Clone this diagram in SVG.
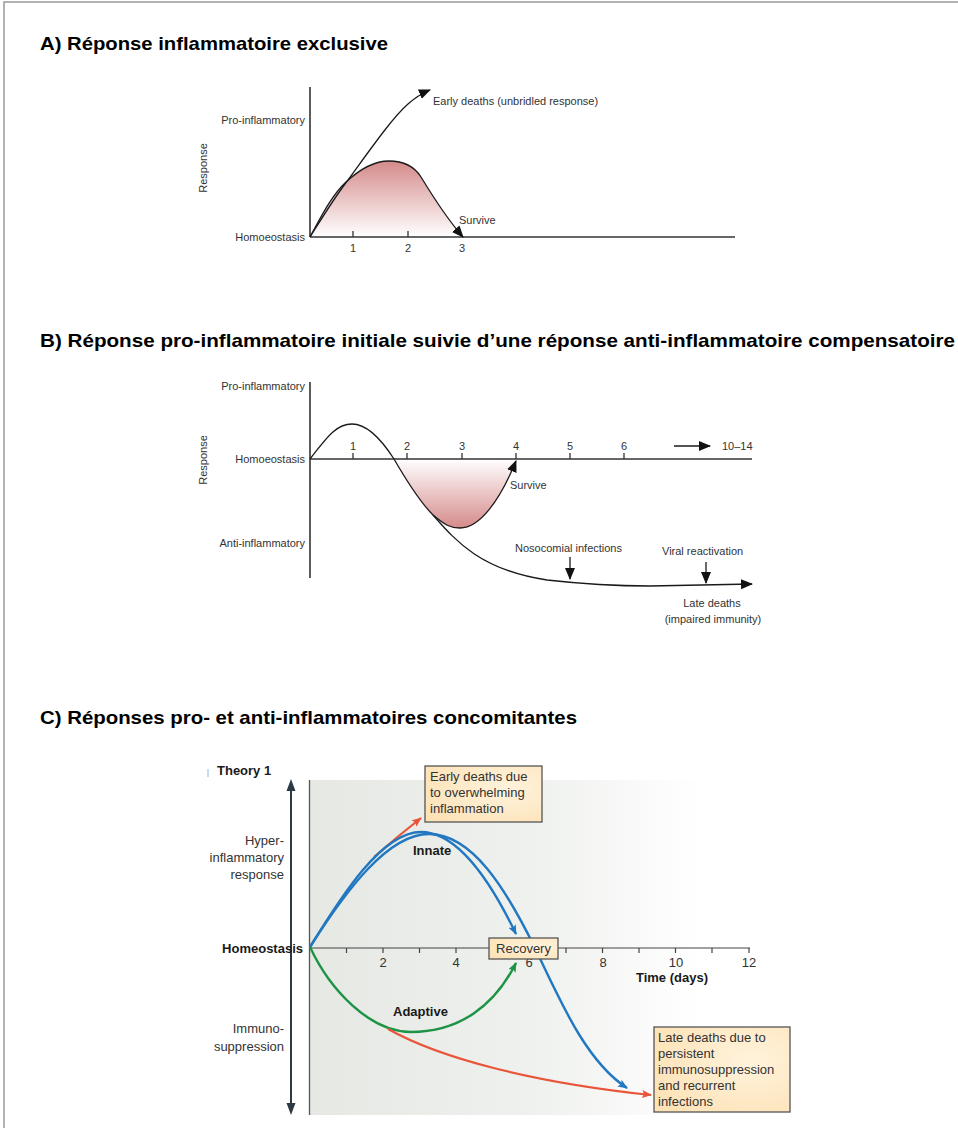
<svg xmlns="http://www.w3.org/2000/svg" width="958" height="1128" viewBox="0 0 958 1128">
<defs>
<style>
.title{font-family:"Liberation Sans",Arial,sans-serif;font-weight:bold;font-size:18.5px;fill:#000}
.lab{font-family:"Liberation Sans",Arial,sans-serif;font-size:11px;fill:#333}
.labc{font-family:"Liberation Sans",Arial,sans-serif;font-size:13px;fill:#333}
.bold{font-family:"Liberation Sans",Arial,sans-serif;font-size:13px;font-weight:bold;fill:#1a1a1a}
.ax{stroke:#333;stroke-width:1.6;fill:none}
.cur{stroke:#1a1a1a;stroke-width:1.3;fill:none}
.tick{stroke:#333;stroke-width:1.3}
.blue{stroke:#2278c0;stroke-width:2.4;fill:none}
.green{stroke:#1d9346;stroke-width:2.4;fill:none}
.red{stroke:#e8553a;stroke-width:2.2;fill:none}
.box{fill:url(#boxg);stroke:#555;stroke-width:1.3}
</style>
<marker id="ak" markerUnits="userSpaceOnUse" markerWidth="14" markerHeight="12" refX="11" refY="5" orient="auto"><path d="M0,0 L12,5 L0,10 Z" fill="#111"/></marker>
<marker id="ab" markerUnits="userSpaceOnUse" markerWidth="12" markerHeight="10" refX="9" refY="4" orient="auto"><path d="M0,0 L10,4 L0,8 L2,4 Z" fill="#2278c0"/></marker>
<marker id="ag" markerUnits="userSpaceOnUse" markerWidth="12" markerHeight="10" refX="9" refY="4" orient="auto"><path d="M0,0 L10,4 L0,8 L2,4 Z" fill="#1d9346"/></marker>
<marker id="ar" markerUnits="userSpaceOnUse" markerWidth="12" markerHeight="10" refX="9" refY="4" orient="auto"><path d="M0,0 L10,4 L0,8 L2,4 Z" fill="#e8553a"/></marker>
<linearGradient id="pinkA" x1="0" y1="161" x2="0" y2="237" gradientUnits="userSpaceOnUse"><stop offset="0" stop-color="#d58a8a"/><stop offset="1" stop-color="#ffffff"/></linearGradient>
<linearGradient id="pinkB" x1="0" y1="459" x2="0" y2="528" gradientUnits="userSpaceOnUse"><stop offset="0" stop-color="#ffffff"/><stop offset="1" stop-color="#d58a8a"/></linearGradient>
<linearGradient id="bgC" x1="310" y1="0" x2="800" y2="0" gradientUnits="userSpaceOnUse"><stop offset="0" stop-color="#e5e8e3"/><stop offset="0.45" stop-color="#eff1ee"/><stop offset="0.8" stop-color="#ffffff"/></linearGradient>
<radialGradient id="boxg" cx="0.7" cy="0.4" r="0.8"><stop offset="0" stop-color="#fff3dc"/><stop offset="1" stop-color="#fde2b6"/></radialGradient>
</defs>
<rect width="958" height="1128" fill="#fff"/>
<path d="M4,1128 V2 H958" fill="none" stroke="#999" stroke-width="1.5"/>

<g id="titles">
<text class="title" x="40" y="50" textLength="348" lengthAdjust="spacingAndGlyphs">A) Réponse inflammatoire exclusive</text>
<text class="title" x="40" y="347" textLength="915" lengthAdjust="spacingAndGlyphs">B) Réponse pro-inflammatoire initiale suivie d’une réponse anti-inflammatoire compensatoire</text>
<text class="title" x="40" y="724" textLength="537" lengthAdjust="spacingAndGlyphs">C) Réponses pro- et anti-inflammatoires concomitantes</text>
</g>

<g id="panelA">
<path d="M310,237 C322,215 332,195 346,182 C360,169 374,161 389,161 C404,161 414,166 421,177 C435,200 448,220 462,237 Z" fill="url(#pinkA)"/>
<line class="ax" x1="310" y1="87" x2="310" y2="237"/>
<line class="ax" x1="310" y1="237" x2="735" y2="237"/>
<line class="tick" x1="353" y1="231" x2="353" y2="237"/>
<line class="tick" x1="408" y1="231" x2="408" y2="237"/>
<text class="lab" x="353" y="252" text-anchor="middle">1</text>
<text class="lab" x="408" y="252" text-anchor="middle">2</text>
<text class="lab" x="462" y="252" text-anchor="middle">3</text>
<text class="lab" x="305" y="124" text-anchor="end">Pro-inflammatory</text>
<text class="lab" x="305" y="241" text-anchor="end">Homoeostasis</text>
<text class="lab" x="207" y="168" text-anchor="middle" transform="rotate(-90 207 168)">Response</text>
<path class="cur" d="M310,237 C322,218 333,200 345,184 C370,150 392,118 408,104 Q418,95 430,90" marker-end="url(#ak)"/>
<path class="cur" d="M310,237 C322,215 332,195 346,182 C360,169 374,161 389,161 C404,161 414,166 421,177 C435,200 448,220 463,237" marker-end="url(#ak)"/>
<text class="lab" x="433" y="105">Early deaths (unbridled response)</text>
<text class="lab" x="459" y="224">Survive</text>
</g>

<g id="panelB">
<path d="M394,459 C405,478 418,500 433,515 C445,525 450,528 460,528 C480,528 500,500 516,461 Z" fill="url(#pinkB)"/>
<line class="ax" x1="310" y1="382" x2="310" y2="578"/>
<line class="ax" x1="310" y1="459" x2="752" y2="459"/>
<line class="tick" x1="353" y1="453" x2="353" y2="459"/>
<line class="tick" x1="407" y1="453" x2="407" y2="459"/>
<line class="tick" x1="462" y1="453" x2="462" y2="459"/>
<line class="tick" x1="516" y1="453" x2="516" y2="459"/>
<line class="tick" x1="570" y1="453" x2="570" y2="459"/>
<line class="tick" x1="624" y1="453" x2="624" y2="459"/>
<text class="lab" x="353" y="450" text-anchor="middle">1</text>
<text class="lab" x="407" y="450" text-anchor="middle">2</text>
<text class="lab" x="462" y="450" text-anchor="middle">3</text>
<text class="lab" x="516" y="450" text-anchor="middle">4</text>
<text class="lab" x="570" y="450" text-anchor="middle">5</text>
<text class="lab" x="624" y="450" text-anchor="middle">6</text>
<line class="cur" x1="674" y1="446" x2="710" y2="446" marker-end="url(#ak)"/>
<text class="lab" x="722" y="450">10–14</text>
<text class="lab" x="305" y="390" text-anchor="end">Pro-inflammatory</text>
<text class="lab" x="305" y="463" text-anchor="end">Homoeostasis</text>
<text class="lab" x="305" y="547" text-anchor="end">Anti-inflammatory</text>
<text class="lab" x="207" y="460" text-anchor="middle" transform="rotate(-90 207 460)">Response</text>
<path class="cur" d="M310,459 C325,440 335,424 352,424 C370,424 385,445 394,459 C405,478 418,500 433,515 C445,525 450,528 460,528 C480,528 500,500 516,461" marker-end="url(#ak)"/>
<path class="cur" d="M433,515 C455,540 480,570 547,580 Q600,586 650,586 L752,584" marker-end="url(#ak)"/>
<text class="lab" x="510" y="489">Survive</text>
<text class="lab" x="515" y="552">Nosocomial infections</text>
<line class="cur" x1="570" y1="557" x2="570" y2="579" marker-end="url(#ak)"/>
<text class="lab" x="662" y="555">Viral reactivation</text>
<line class="cur" x1="706" y1="562" x2="706" y2="583" marker-end="url(#ak)"/>
<text class="lab" x="712" y="607" text-anchor="middle">Late deaths</text>
<text class="lab" x="713" y="623" text-anchor="middle">(impaired immunity)</text>
</g>

<g id="panelC">
<rect x="310" y="780" width="490" height="335" fill="url(#bgC)"/>
<line x1="309.5" y1="780" x2="309.5" y2="1115" stroke="#555" stroke-width="1.3"/>
<line x1="208" y1="769" x2="208" y2="777" stroke="#9cc9e8" stroke-width="1.2"/>
<text class="bold" x="217" y="775">Theory 1</text>
<line x1="291" y1="790" x2="291" y2="1105" stroke="#2b3a44" stroke-width="2"/>
<path d="M291,779 L295.5,791 L286.5,791 Z" fill="#2b3a44"/>
<path d="M291,1115 L295.5,1103 L286.5,1103 Z" fill="#2b3a44"/>
<text class="labc" x="284" y="845" text-anchor="end">Hyper-</text>
<text class="labc" x="284" y="862" text-anchor="end">inflammatory</text>
<text class="labc" x="284" y="879" text-anchor="end">response</text>
<text class="bold" x="303" y="953" text-anchor="end">Homeostasis</text>
<text class="labc" x="284" y="1033" text-anchor="end">Immuno-</text>
<text class="labc" x="284" y="1051" text-anchor="end">suppression</text>
<line x1="310" y1="948" x2="750" y2="948" stroke="#444" stroke-width="1.2"/>
<g stroke="#444" stroke-width="1.2">
<line x1="346.5" y1="948" x2="346.5" y2="953"/><line x1="383" y1="948" x2="383" y2="953"/><line x1="419.5" y1="948" x2="419.5" y2="953"/><line x1="456" y1="948" x2="456" y2="953"/><line x1="529" y1="948" x2="529" y2="953"/><line x1="566" y1="948" x2="566" y2="953"/><line x1="602.5" y1="948" x2="602.5" y2="953"/><line x1="639" y1="948" x2="639" y2="953"/><line x1="675.5" y1="948" x2="675.5" y2="953"/><line x1="712" y1="948" x2="712" y2="953"/><line x1="749" y1="948" x2="749" y2="953"/>
</g>
<text class="labc" x="383" y="967" text-anchor="middle">2</text>
<text class="labc" x="456" y="967" text-anchor="middle">4</text>
<text class="labc" x="529" y="967" text-anchor="middle">6</text>
<text class="labc" x="603" y="967" text-anchor="middle">8</text>
<text class="labc" x="676" y="967" text-anchor="middle">10</text>
<text class="labc" x="749" y="967" text-anchor="middle">12</text>
<text class="bold" x="672" y="982" text-anchor="middle">Time (days)</text>

<path class="red" d="M374,857 Q398,836 421,818" marker-end="url(#ar)"/>
<path class="blue" d="M310,947 C342,895 382,832 421,832 C458,832 490,880 516,934" marker-end="url(#ab)"/>
<path class="blue" d="M310,947 C345,892 388,833 430,834 C472,835 505,887 535,948 C562,1005 587,1062 627,1088" marker-end="url(#ab)"/>
<path class="green" d="M310,947 C330,990 370,1032 411,1032 C460,1032 495,1005 516,963" marker-end="url(#ag)"/>
<path class="red" d="M388,1029 C440,1058 530,1082 651,1095" marker-end="url(#ar)"/>

<text class="bold" x="413" y="855">Innate</text>
<text class="bold" x="393" y="1016">Adaptive</text>

<rect class="box" x="425" y="766" width="117" height="56"/>
<text class="labc" x="430" y="781">Early deaths due</text>
<text class="labc" x="430" y="797">to overwhelming</text>
<text class="labc" x="430" y="813">inflammation</text>

<rect class="box" x="489" y="938" width="69" height="21"/>
<text class="labc" x="523.5" y="953" text-anchor="middle">Recovery</text>

<rect class="box" x="654" y="1027" width="136" height="85"/>
<text class="labc" x="658" y="1042">Late deaths due to</text>
<text class="labc" x="658" y="1058">persistent</text>
<text class="labc" x="658" y="1074">immunosuppression</text>
<text class="labc" x="658" y="1090">and recurrent</text>
<text class="labc" x="658" y="1106">infections</text>
</g>
</svg>
